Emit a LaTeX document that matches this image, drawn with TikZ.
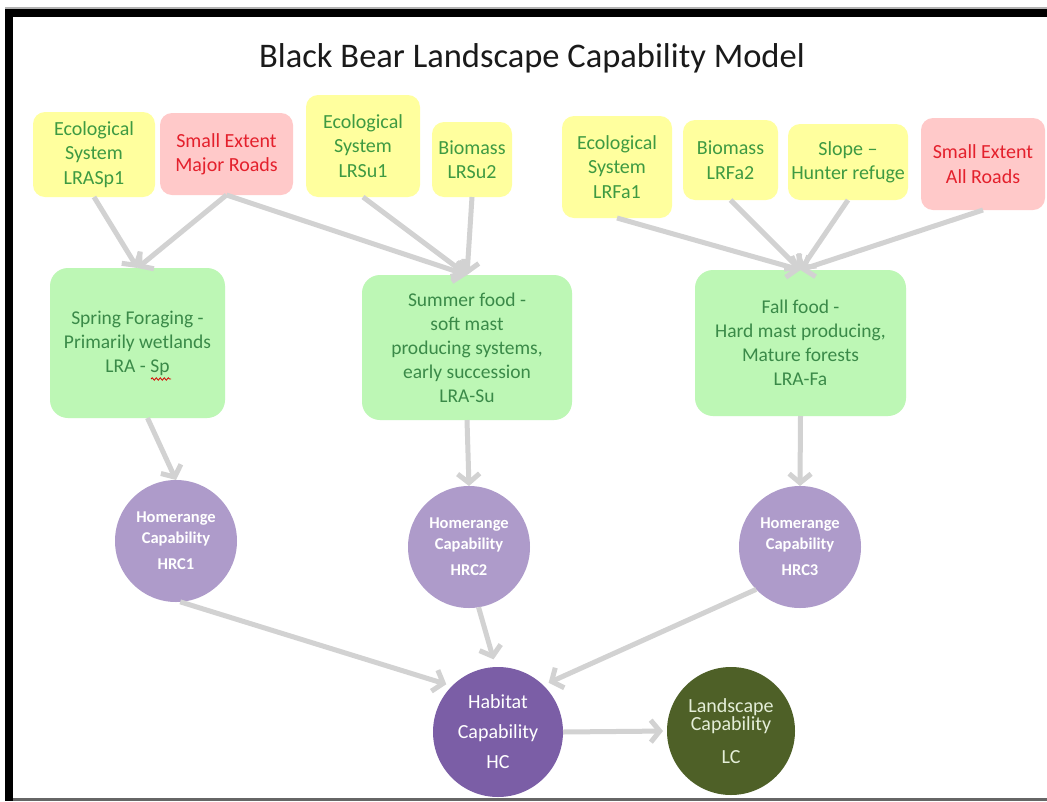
\documentclass[tikz,border=0pt]{standalone}
\usepackage{fontspec}
\setmainfont{Carlito}
\usetikzlibrary{arrows.meta,decorations.pathmorphing}

\definecolor{ylw}{HTML}{FFFF9E}
\definecolor{pnk}{HTML}{FFC9C9}
\definecolor{grn}{HTML}{BDF7B5}
\definecolor{txtg}{HTML}{3E9A42}
\definecolor{txtgg}{HTML}{3A8A48}
\definecolor{txtr}{HTML}{E4202C}
\definecolor{lav}{HTML}{AE9BCA}
\definecolor{hcp}{HTML}{7B5EA6}
\definecolor{olv}{HTML}{4E6027}
\definecolor{lctxt}{HTML}{E4EED8}
\definecolor{arr}{HTML}{D2D2D2}
\definecolor{ttl}{HTML}{1A1A1A}

\begin{document}
\begin{tikzpicture}[x=1pt,y=-1pt,
  every node/.style={inner sep=0pt,outer sep=0pt},
  ybox/.style={fill=ylw, rounded corners=12pt, align=center, text=txtg,
    font=\fontsize{20}{24.4}\selectfont},
  pbox/.style={ybox, fill=pnk, text=txtr},
  gbox/.style={fill=grn, rounded corners=18pt, align=center, text=txtgg,
    font=\fontsize{19.5}{24}\selectfont},
  hrc/.style={circle, fill=lav, minimum size=122pt, align=center, text=white,
    font=\bfseries\fontsize{16.5}{20.5}\selectfont},
  bigc/.style={circle, minimum size=130pt, align=center,
    font=\fontsize{20}{30}\selectfont},
  link/.style={draw=arr, line width=5pt, -{Straight Barb[length=9pt,width=22pt]}}
]
% page and frame
\fill[white] (0,0) rectangle (1047,801);
\useasboundingbox (0,0) rectangle (1047,801);
\fill[black] (5,8) rectangle (13,801);
\fill[black] (5,8) rectangle (1047,17);
\fill[gray!60] (5,7) rectangle (1047,8.5);
\fill[black!60] (13,798) rectangle (1047,801);

% title
\node[font=\fontsize{34.5}{41}\selectfont, text=ttl] (title) at (532,58)
  {Black Bear Landscape Capability Model};

% input layers
\node[ybox, minimum width=122pt, minimum height=85pt]  (A) at (94,154.5)   {Ecological\\System\\LRASp1};
\node[pbox, minimum width=133pt, minimum height=82pt]  (B) at (226.5,154)  {Small Extent\\Major Roads};
\node[ybox, minimum width=114pt, minimum height=102pt] (C) at (363,146)    {Ecological\\System\\LRSu1};
\node[ybox, minimum width=80pt,  minimum height=75pt]  (D) at (472,159.5)  {Biomass\\LRSu2};
\node[ybox, minimum width=110pt, minimum height=102pt] (E) at (617,167)    {Ecological\\System\\LRFa1};
\node[ybox, minimum width=95pt,  minimum height=80pt]  (F) at (730.5,160)  {Biomass\\LRFa2};
\node[ybox, minimum width=120pt, minimum height=76pt]  (G) at (848,162)    {Slope –\\Hunter refuge};
\node[pbox, minimum width=124pt, minimum height=92pt]  (H) at (983,164)    {Small Extent\\All Roads};

% seasonal food
\node[gbox, minimum width=175pt, minimum height=150pt] (spring) at (137.5,343)
  {Spring Foraging -\\Primarily wetlands\\LRA - Sp};
\node[gbox, minimum width=210pt, minimum height=145pt] (summer) at (467,347.5)
  {Summer food -\\soft mast\\producing systems,\\early succession\\LRA-Su};
\node[gbox, minimum width=211pt, minimum height=146pt] (fall) at (800.5,343)
  {Fall food -\\Hard mast producing,\\Mature forests\\LRA-Fa};
% spell-check mark under "Sp"
\draw[red!85!black, line width=0.8pt, decorate,
  decoration={snake, amplitude=1.2pt, segment length=4pt}] (151,379) -- (171,379);

% homerange capability
\node[hrc] (h1) at (176,541) {Homerange\\Capability\\[6pt]HRC1};
\node[hrc] (h2) at (469,547) {Homerange\\Capability\\[6pt]HRC2};
\node[hrc] (h3) at (800,547) {Homerange\\Capability\\[6pt]HRC3};

% habitat and landscape capability
\node[bigc, fill=hcp, text=white] (hc) at (498,732) {Habitat\\Capability\\HC};
\node[bigc, fill=olv, text=lctxt, minimum size=128pt] (lc) at (731,731)
  {Landscape\\[-12pt]Capability\\[3pt]LC};

% connectors
\draw[link] (A.south) -- (spring.north);
\draw[link] (B.south) -- (spring.north);
\draw[link] (B.south) -- (summer.north);
\draw[link] (C.south) -- (summer.north);
\draw[link] (D.south) -- (summer.north);
\draw[link] (E.south) -- (fall.north);
\draw[link] (F.south) -- (fall.north);
\draw[link] (G.south) -- (fall.north);
\draw[link] (H.south) -- (fall.north);
\draw[link] ([xshift=10pt]spring.south) -- (h1.north);
\draw[link] (summer.south) -- (h2.north);
\draw[link] (fall.south) -- (h3.north);
\draw[link, shorten >=6pt] (h1.-86) -- (hc.135);
\draw[link, shorten >=8pt] (h2.-81) -- (hc.92);
\draw[link, shorten >=6pt] (h3.-136) -- (hc.46);
\draw[link, shorten >=4pt] (hc.east) -- (lc.west);
\end{tikzpicture}
\end{document}
